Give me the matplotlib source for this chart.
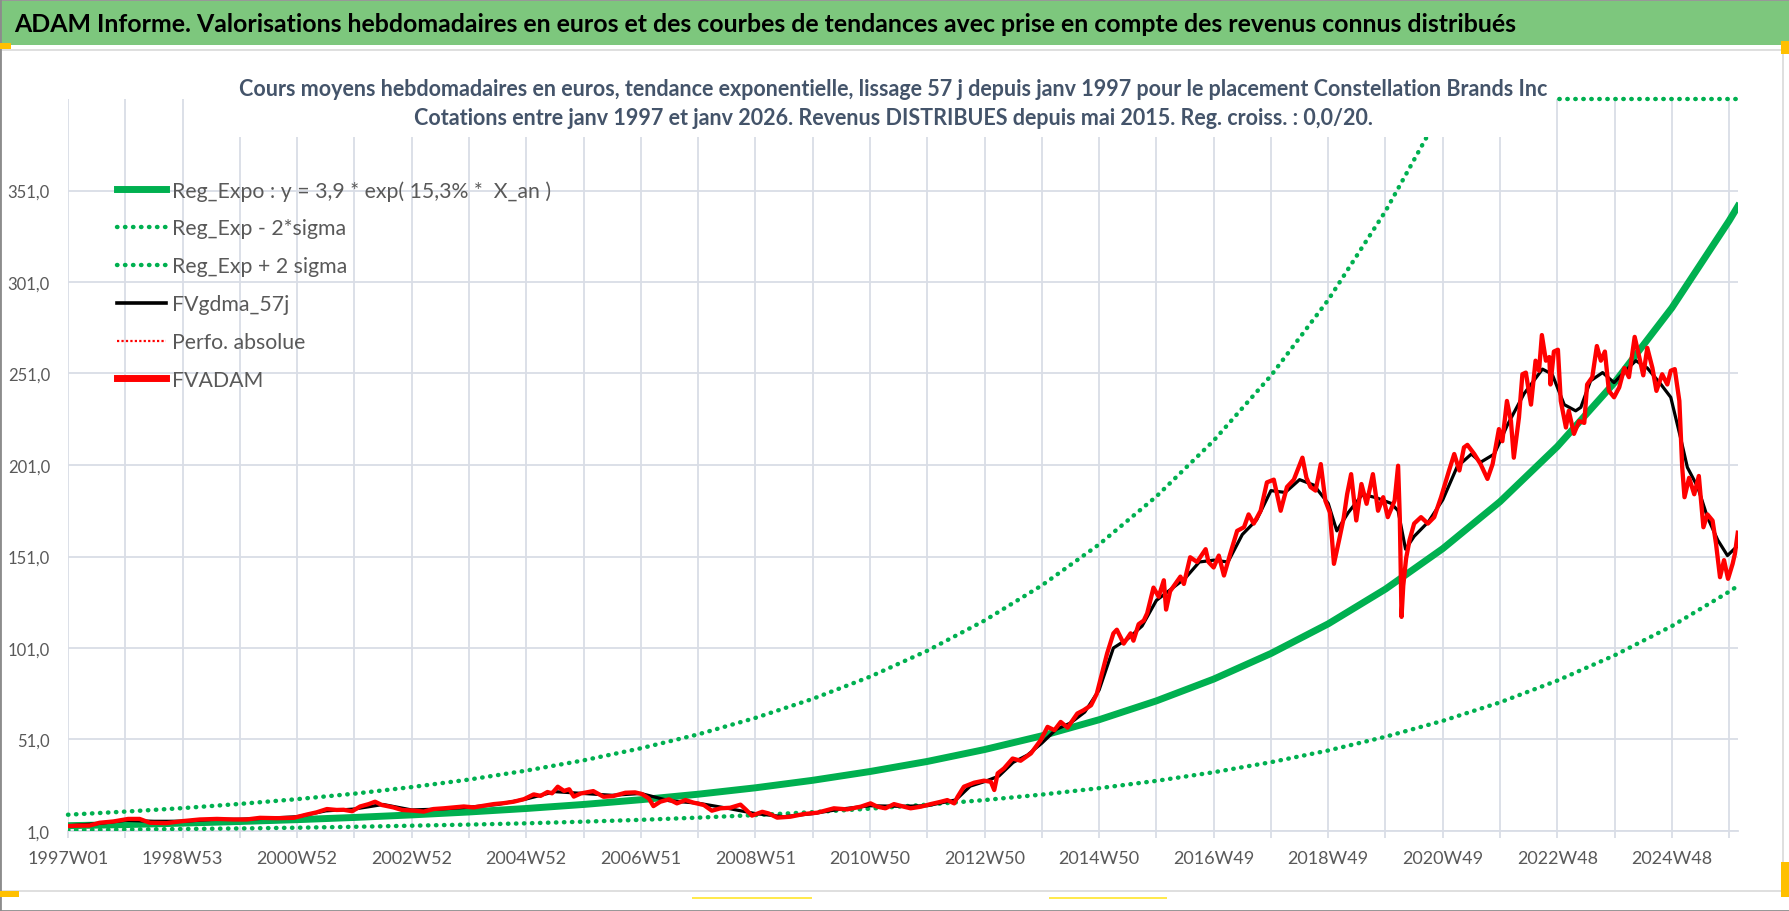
import numpy as np
import matplotlib
matplotlib.use('Agg')
import matplotlib.pyplot as plt
from matplotlib import font_manager
from matplotlib.lines import Line2D
from matplotlib.patches import Rectangle

# ---- data ----
# regression curve and +/- 2 sigma bands, one value per year (year 1997 = week 0)
reg_years = [1997, 1998, 1999, 2000, 2001, 2002, 2003, 2004, 2005, 2006, 2007, 2008, 2009, 2010, 2011,
             2012, 2013, 2014, 2015, 2016, 2017, 2018, 2019, 2020, 2021, 2022, 2023, 2024, 2025, 2026, 2026.15]
reg_expo = [3.9, 4.5, 5.3, 6.2, 7.2, 8.4, 9.8, 11.4, 13.3, 15.5, 18.1, 21.1, 24.6, 28.7, 33.5,
            39.0, 45.5, 53.0, 61.8, 72.1, 84.0, 98.0, 114.2, 133.2, 155.3, 181.0, 211.1, 246.1, 286.9, 334.5, 342.3]
reg_low = [1.5, 1.8, 2.1, 2.4, 2.8, 3.3, 3.9, 4.5, 5.2, 6.1, 7.1, 8.3, 9.7, 11.3, 13.2,
           15.4, 17.9, 20.9, 24.4, 28.4, 33.1, 38.6, 45.0, 52.5, 61.2, 71.3, 83.2, 97.0, 113.0, 131.8, 134.9]
# the upper band leaves the axis at the top (drawn on the 401 edge like Excel does)
reg_high = [9.9, 11.6, 13.5, 15.8, 18.4, 21.4, 25.0, 29.1, 34.0, 39.6, 46.2, 53.8, 62.8, 73.2, 85.3,
            99.5, 116.0, 135.2, 157.6, 183.8, 214.3, 249.8, 291.2, 339.7, 396.0, 401, 401, 401, 401, 401, 401]

fv_years = [1997.00, 1997.15, 1997.38, 1997.55, 1997.79, 1998.05, 1998.25, 1998.43, 1998.72, 1999.00,
            1999.30, 1999.60, 1999.89, 2000.12, 2000.35, 2000.64, 2000.94, 2001.17, 2001.34, 2001.52,
            2001.69, 2001.81, 2001.96, 2002.10, 2002.25, 2002.36, 2002.48, 2002.60, 2002.68, 2002.83,
            2003.04, 2003.21, 2003.38, 2003.56, 2003.73, 2003.91, 2004.08, 2004.26, 2004.43, 2004.60,
            2004.78, 2004.96, 2005.13, 2005.25, 2005.37, 2005.45, 2005.55, 2005.66, 2005.75, 2005.83,
            2005.95, 2006.17, 2006.35, 2006.52, 2006.73, 2006.90, 2007.02, 2007.14, 2007.22, 2007.34,
            2007.49, 2007.63, 2007.78, 2007.92, 2008.10, 2008.24, 2008.39, 2008.56, 2008.74, 2008.83,
            2008.94, 2009.12, 2009.23, 2009.38, 2009.61, 2009.85, 2010.08, 2010.37, 2010.60, 2010.84,
            2011.01, 2011.13, 2011.27, 2011.42, 2011.59, 2011.71, 2011.89, 2012.06, 2012.24, 2012.35,
            2012.47, 2012.53, 2012.64, 2012.82, 2012.99, 2013.11, 2013.17, 2013.23, 2013.34, 2013.49,
            2013.63, 2013.81, 2013.98, 2014.10, 2014.22, 2014.33, 2014.45, 2014.62, 2014.73, 2014.86,
            2014.96, 2015.05, 2015.14, 2015.25, 2015.31, 2015.43, 2015.55, 2015.60, 2015.69, 2015.78,
            2015.84, 2015.95, 2016.04, 2016.13, 2016.17, 2016.24, 2016.42, 2016.48, 2016.59, 2016.71,
            2016.86, 2016.91, 2017.00, 2017.09, 2017.18, 2017.29, 2017.41, 2017.53, 2017.61, 2017.70,
            2017.82, 2017.93, 2018.05, 2018.17, 2018.28, 2018.40, 2018.55, 2018.62, 2018.69, 2018.78,
            2018.87, 2018.95, 2019.03, 2019.10, 2019.19, 2019.27, 2019.33, 2019.40, 2019.49, 2019.58,
            2019.67, 2019.78, 2019.87, 2019.96, 2020.04, 2020.16, 2020.22, 2020.25, 2020.28, 2020.31,
            2020.36, 2020.42, 2020.50, 2020.62, 2020.74, 2020.85, 2020.97, 2021.11, 2021.20, 2021.29,
            2021.37, 2021.43, 2021.55, 2021.66, 2021.78, 2021.87, 2021.98, 2022.04, 2022.12, 2022.19,
            2022.24, 2022.33, 2022.39, 2022.45, 2022.54, 2022.62, 2022.68, 2022.73, 2022.80, 2022.86,
            2022.88, 2022.94, 2023.01, 2023.06, 2023.15, 2023.20, 2023.29, 2023.38, 2023.47, 2023.52,
            2023.61, 2023.69, 2023.76, 2023.83, 2023.90, 2023.99, 2024.08, 2024.17, 2024.25, 2024.35,
            2024.43, 2024.50, 2024.57, 2024.66, 2024.73, 2024.83, 2024.92, 2024.98, 2025.05, 2025.13,
            2025.18, 2025.22, 2025.30, 2025.39, 2025.47, 2025.55, 2025.62, 2025.71, 2025.77, 2025.84,
            2025.91, 2025.98, 2026.06, 2026.10, 2026.15]
fv_adam = [3.7, 3.9, 4.0, 5.5, 6.2, 7.6, 7.6, 5.5, 5.3, 6.4,
           7.3, 7.6, 7.3, 7.3, 8.2, 8.0, 8.2, 10.0, 11.2, 13.0,
           12.5, 12.6, 11.8, 14.4, 15.7, 17.0, 15.2, 14.4, 13.9, 12.5,
           12.1, 11.6, 13.0, 13.4, 13.9, 14.4, 13.9, 14.8, 15.7, 16.2,
           17.0, 18.4, 21.0, 20.2, 22.3, 21.6, 25.2, 22.9, 23.8, 19.8,
           21.5, 22.8, 19.7, 20.1, 21.9, 22.1, 21.2, 18.8, 14.6, 17.0,
           18.3, 16.1, 17.9, 16.5, 15.2, 12.1, 13.4, 13.7, 15.4, 12.8,
           9.4, 11.5, 10.6, 8.3, 8.8, 10.3, 11.0, 13.4, 12.8, 14.3,
           16.1, 14.3, 13.4, 15.7, 14.3, 13.4, 14.3, 15.7, 17.0, 17.9,
           16.1, 19.7, 25.2, 27.4, 28.5, 27.9, 23.4, 32.5, 35.2, 40.6,
           39.4, 43.4, 50.6, 57.9, 56.1, 60.6, 57.5, 65.2, 67.0, 69.7,
           76.0, 87.0, 98.0, 109.0, 111.0, 103.4, 109.0, 105.0, 114.0, 116.0,
           120.0, 134.0, 129.0, 138.0, 122.0, 132.0, 140.0, 136.0, 150.6, 148.0,
           155.0, 148.0, 145.0, 151.5, 140.6, 152.5, 165.0, 167.0, 174.0, 169.0,
           176.0, 191.5, 193.0, 176.0, 189.0, 193.0, 205.0, 194.0, 189.0, 187.0,
           201.5, 181.5, 175.0, 147.0, 160.0, 172.0, 185.0, 196.0, 170.7, 190.6,
           179.8, 196.0, 176.0, 183.4, 172.5, 181.6, 200.6, 172.0, 118.0, 135.0,
           150.0, 160.0, 169.0, 172.5, 169.0, 172.5, 183.4, 198.0, 207.0, 198.0,
           210.6, 212.0, 207.0, 201.5, 193.4, 201.5, 220.6, 214.0, 236.0, 225.0,
           205.0, 227.0, 250.6, 251.5, 234.0, 258.0, 252.5, 272.0, 258.0, 260.0,
           245.0, 263.0, 264.0, 236.0, 221.5, 230.6, 218.0, 225.0, 224.0, 245.0,
           249.0, 266.0, 258.0, 263.0, 241.5, 238.0, 243.4, 254.0, 249.0, 271.0,
           260.0, 250.0, 265.0, 254.0, 241.5, 250.6, 245.0, 252.5, 253.4, 236.0,
           199.7, 183.4, 194.0, 185.0, 195.0, 167.0, 174.0, 170.6, 158.0, 139.7,
           149.0, 138.8, 147.0, 152.5, 164.0]

gdma_years = [1997.0, 1997.5, 1998.0, 1998.5, 1999.0, 1999.5, 2000.0, 2000.5, 2001.0, 2001.5,
              2002.0, 2002.5, 2003.0, 2003.5, 2004.0, 2004.5, 2005.0, 2005.5, 2006.0, 2006.5,
              2007.0, 2007.5, 2008.0, 2008.5, 2009.0, 2009.5, 2010.0, 2010.5, 2011.0, 2011.5,
              2012.0, 2012.5, 2012.75, 2013.0, 2013.25, 2013.5, 2013.75, 2014.0, 2014.25, 2014.5,
              2014.75, 2015.0, 2015.25, 2015.5, 2015.75, 2016.0, 2016.25, 2016.5, 2016.75, 2017.0,
              2017.25, 2017.5, 2017.75, 2018.0, 2018.25, 2018.5, 2018.75, 2019.0, 2019.15, 2019.35,
              2019.6, 2019.85, 2020.1, 2020.22, 2020.35, 2020.5, 2020.75, 2021.0, 2021.25, 2021.5,
              2021.66, 2021.9, 2022.13, 2022.42, 2022.74, 2022.91, 2023.12, 2023.32, 2023.41, 2023.58,
              2023.79, 2023.99, 2024.19, 2024.37, 2024.57, 2024.81, 2024.98, 2025.15, 2025.27, 2025.45,
              2025.62, 2025.8, 2025.97, 2026.15]
fv_gdma = [3.8, 5.0, 6.8, 6.3, 6.3, 7.3, 7.4, 8.0, 8.8, 12.0,
           13.0, 15.5, 12.5, 13.0, 14.0, 15.5, 18.5, 22.5, 21.5, 20.5,
           21.5, 17.5, 16.2, 13.5, 10.5, 8.8, 10.5, 13.0, 14.8, 14.5,
           14.8, 18.0, 25.5, 28.0, 31.0, 38.5, 42.5, 49.0, 56.5, 60.0,
           66.0, 78.0, 101.0, 106.0, 113.0, 127.0, 133.0, 139.0, 148.0, 149.0,
           148.0, 163.0, 171.0, 187.0, 186.0, 193.0, 190.0, 180.0, 165.0, 175.0,
           185.0, 183.0, 180.0, 176.0, 155.0, 162.0, 170.0, 182.0, 200.0, 207.0,
           202.5, 207.0, 223.0, 240.0, 253.4, 250.6, 234.0, 230.6, 232.5, 247.0,
           251.5, 246.0, 252.5, 258.0, 254.0, 245.0, 238.0, 216.0, 199.7, 189.0,
           172.5, 160.0, 151.5, 157.0]

x_tick_labels = ['1997W01', '1998W53', '2000W52', '2002W52', '2004W52', '2006W51', '2008W51', '2010W50',
                 '2012W50', '2014W50', '2016W49', '2018W49', '2020W49', '2022W48', '2024W48']
y_ticks = [1, 51, 101, 151, 201, 251, 301, 351]

legend_labels = ['Reg_Expo : y = 3,9 * exp( 15,3% *  X_an )', 'Reg_Exp - 2*sigma', 'Reg_Exp + 2 sigma',
                 'FVgdma_57j', 'Perfo. absolue', 'FVADAM']

title = ('ADAM Informe. Valorisations hebdomadaires en euros et des courbes de tendances avec prise en '
         'compte des revenus connus distribués')
subtitle_1 = ('Cours moyens hebdomadaires en euros, tendance exponentielle, lissage 57 j depuis janv 1997 '
              'pour le placement Constellation Brands Inc')
subtitle_2 = ('Cotations entre janv 1997 et janv 2026. Revenus DISTRIBUES depuis mai 2015. '
              'Reg. croiss. : 0,0/20.')

# ---- style ----
available = {f.name for f in font_manager.fontManager.ttflist}
main_font = next((f for f in ['Lato', 'Noto Sans', 'DejaVu Sans'] if f in available), 'DejaVu Sans')
plt.rcParams['font.family'] = [main_font, 'DejaVu Sans']

GREEN = '#00B050'
GRID = '#D9DDE6'
LABEL = '#595959'
W, H = 1790, 912
WEEKS_PER_YEAR = 52
LAST_WEEK = 1516


def fx(px):
    return px / W


def fy(py):
    return 1 - py / H


def weeks(years):
    return (np.asarray(years) - 1997) * WEEKS_PER_YEAR


fig = plt.figure(figsize=(W / 100, H / 100), dpi=100)
fig.patch.set_facecolor('white')

ax = fig.add_axes([fx(68), fy(832), fx(1738) - fx(68), fy(100) - fy(832)])

dots = (0, (0.1, 1.7))
ax.plot(weeks(reg_years), reg_expo, color=GREEN, lw=5.0, solid_joinstyle='round', zorder=3)
ax.plot(weeks(reg_years), reg_low, color=GREEN, lw=3.2, ls=dots, dash_capstyle='round', zorder=3)
ax.plot(weeks(reg_years), reg_high, color=GREEN, lw=3.2, ls=dots, dash_capstyle='round', zorder=3,
        clip_on=False)
ax.plot(weeks(gdma_years), fv_gdma, color='black', lw=2.3, solid_joinstyle='round', zorder=4)
ax.plot(weeks(fv_years), fv_adam, color='red', lw=3.1, solid_joinstyle='round', zorder=5)

ax.set_xlim(0, LAST_WEEK)
ax.set_ylim(1, 401)

grid_weeks = np.arange(0, LAST_WEEK + 1, WEEKS_PER_YEAR)
ax.set_xticks(grid_weeks)
labels = []
for i in range(len(grid_weeks)):
    labels.append(x_tick_labels[i // 2] if i % 2 == 0 and i // 2 < len(x_tick_labels) else '')
ax.set_xticklabels(labels)
ax.set_yticks(y_ticks)
ax.set_yticklabels([f'{v:.1f}'.replace('.', ',') for v in y_ticks])

ax.grid(True, color=GRID, lw=1.3, zorder=0)
ax.set_axisbelow(True)
for s in ['top', 'right', 'left']:
    ax.spines[s].set_visible(False)
ax.spines['bottom'].set_color(GRID)
ax.spines['bottom'].set_linewidth(1.3)
ax.tick_params(axis='x', length=5, width=1.3, color=GRID, pad=9, labelsize=13, labelcolor=LABEL)
ax.tick_params(axis='y', length=0, pad=13, labelsize=12, labelcolor=LABEL)

handles = [Line2D([], [], color=GREEN, lw=5.0),
           Line2D([], [], color=GREEN, lw=3.2, ls=dots, dash_capstyle='round'),
           Line2D([], [], color=GREEN, lw=3.2, ls=dots, dash_capstyle='round'),
           Line2D([], [], color='black', lw=2.6),
           Line2D([], [], color='red', lw=1.6, ls=(0, (1, 1))),
           Line2D([], [], color='red', lw=5.0)]
leg = ax.legend(handles, legend_labels, loc='upper left', bbox_to_anchor=(fx(117), fy(181)),
                bbox_transform=fig.transFigure, frameon=False, fontsize=15.3, handlelength=2.3,
                handletextpad=0.3, labelspacing=0.84, borderpad=0, borderaxespad=0)
for t in leg.get_texts():
    t.set_color(LABEL)

# ---- decorations around the chart ----
fig.add_artist(Rectangle((0, fy(46)), 1, fy(2) - fy(46), transform=fig.transFigure,
                         facecolor='#7DC77D', edgecolor='none', zorder=1))
fig.add_artist(Rectangle((fx(1), fy(892)), fx(1783) - fx(1), fy(51) - fy(892), transform=fig.transFigure,
                         facecolor='none', edgecolor='#D9D9D9', lw=1.2, zorder=1))
fig.add_artist(Rectangle((0, 0), 1, 1, transform=fig.transFigure,
                         facecolor='none', edgecolor='#8C8C8C', lw=2, zorder=20))
for x0, y0, w, h, c in [(0, 44, 11, 6, '#FFC000'), (1781, 42, 9, 13, '#FFC000'),
                        (1781, 863, 9, 35, '#FFC000'), (0, 892, 19, 6, '#FFC000'),
                        (692, 898, 120, 2, '#FFE94D'), (1049, 898, 118, 2, '#FFE94D')]:
    fig.add_artist(Rectangle((fx(x0), fy(y0 + h)), fx(w), h / H, transform=fig.transFigure,
                             facecolor=c, edgecolor='none', zorder=21))

# white title box that hides the plot behind the subtitle
fig.add_artist(Rectangle((fx(228), fy(138)), fx(1554) - fx(228), fy(60) - fy(138), transform=fig.transFigure,
                         facecolor='white', edgecolor='none', zorder=10))

t_title = fig.text(fx(14), fy(24), title, ha='left', va='center', fontsize=18, weight='bold',
                   color='black', zorder=12)
t_sub1 = fig.text(fx(893), fy(89), subtitle_1, ha='center', va='center', fontsize=14, weight='bold',
                  color='#44546A', zorder=12)
t_sub2 = fig.text(fx(893), fy(119), subtitle_2, ha='center', va='center', fontsize=14, weight='bold',
                  color='#44546A', zorder=12)

# fit the long texts to the widths measured on the reference (both subtitle lines share one size)
renderer = fig.canvas.get_renderer()
bb = t_title.get_window_extent(renderer)
t_title.set_fontsize(t_title.get_fontsize() * 1505 / bb.width)
bb = t_sub1.get_window_extent(renderer)
sub_size = t_sub1.get_fontsize() * 1319 / bb.width
t_sub1.set_fontsize(sub_size)
t_sub2.set_fontsize(sub_size)

fig.savefig('out.png', dpi=100, facecolor='white')
